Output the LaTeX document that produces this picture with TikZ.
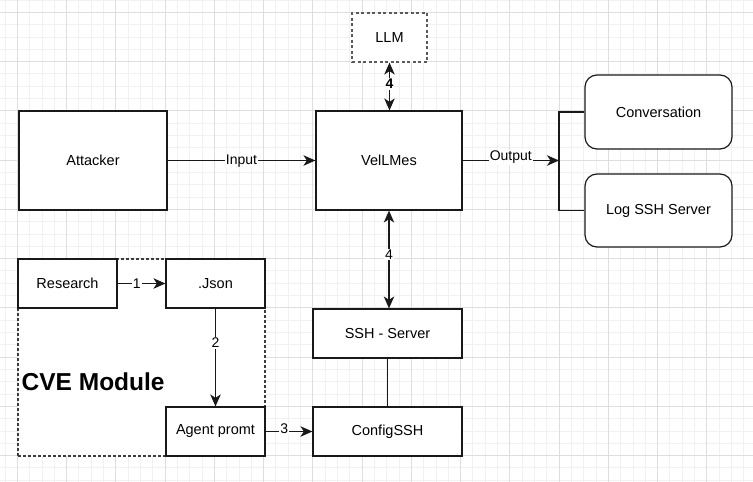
\documentclass[tikz,border=0pt]{standalone}
\usepackage{fontspec}
\setmainfont{Liberation Sans}
\usetikzlibrary{arrows.meta}
\definecolor{gridmajor}{RGB}{222,222,222}
\definecolor{gridminor}{RGB}{241,241,241}
\definecolor{stroke}{RGB}{25,25,25}
\definecolor{dashgray}{RGB}{90,90,90}

\begin{document}
\begin{tikzpicture}[x=1pt, y=-1pt,
    box/.style={draw=stroke, line width=1.2pt, fill=white, inner sep=0pt,
      font=\fontsize{14.5}{17}\selectfont},
    roundbox/.style={box, rounded corners=12pt},
    dashbox/.style={box, draw=dashgray, dash pattern=on 3pt off 2.5pt},
    lbl/.style={fill=white, inner sep=1pt, font=\fontsize{14}{16}\selectfont},
    line/.style={draw=stroke, line width=1.2pt},
    arr/.style={line, -{Stealth[length=12pt, width=10.5pt, inset=3.5pt]}},
    arrboth/.style={line, {Stealth[length=12pt, width=10.5pt, inset=3.5pt]}-{Stealth[length=12pt, width=10.5pt, inset=3.5pt]}}]

  % Canvas and grid
  \useasboundingbox (0,0) rectangle (753,482);
  \fill[white] (0,0) rectangle (753,482);
  \begin{scope}
    \clip (0,0) rectangle (753,482);
    \foreach \i in {-1,...,60}
      \draw[gridminor, line width=0.8pt] ({17.3+12.3125*\i},0) -- ({17.3+12.3125*\i},482);
    \foreach \i in {-1,...,38}
      \draw[gridminor, line width=0.8pt] (0,{12.3+12.3125*\i}) -- (753,{12.3+12.3125*\i});
    \foreach \i in {0,...,15}
      \draw[gridmajor, line width=0.8pt] ({17.3+49.25*\i},0) -- ({17.3+49.25*\i},482);
    \foreach \i in {0,...,9}
      \draw[gridmajor, line width=0.8pt] (0,{12.3+49.25*\i}) -- (753,{12.3+49.25*\i});
  \end{scope}

  % CVE module frame
  \node[box, draw=stroke!85, dash pattern=on 3pt off 2pt, minimum width=247pt, minimum height=197pt] (cve) at (141.5,357.5) {};
  \node[anchor=west, inner sep=0pt, font=\fontsize{24.5}{27}\selectfont\bfseries] (cvetitle) at (21.5,382) {CVE Module};

  % Main blocks
  \node[box, minimum width=148pt, minimum height=99pt] (attacker) at (93,160.5) {Attacker};
  \node[box, minimum width=146pt, minimum height=99pt] (velmes) at (389,160.5) {VelLMes};
  \node[dashbox, minimum width=75pt, minimum height=49pt] (llm) at (389.5,37.5) {LLM};
  \node[roundbox, minimum width=147pt, minimum height=74pt] (conv) at (658.5,112) {Conversation};
  \node[roundbox, minimum width=147pt, minimum height=73pt] (log) at (658.5,210.5) {Log SSH Server};
  \node[box, minimum width=149pt, minimum height=49pt] (ssh) at (387.5,333.5) {SSH - Server};
  \node[box, minimum width=149pt, minimum height=49pt] (config) at (387.5,431.5) {ConfigSSH};

  % CVE blocks
  \node[box, minimum width=99pt, minimum height=49pt] (research) at (67.5,283.5) {Research};
  \node[box, minimum width=99pt, minimum height=49pt] (json) at (215.5,283.5) {.Json};
  \node[box, minimum width=99pt, minimum height=49pt] (agent) at (215.5,431.5) {Agent promt};

  % Output fork
  \coordinate (split) at (559,160.5);
  \draw[line] (conv.west) -- (conv.west -| split) -- (log.west -| split) -- (log.west);

  % Arrows
  \draw[arr] (attacker) -- node[lbl, yshift=-0.5pt]{Input} (velmes);
  \draw[arr] (velmes.east) -- node[lbl, yshift=3pt]{Output} (split);
  \draw[arrboth] (llm.south) -- node[lbl, pos=0.45, font=\fontsize{14}{16}\selectfont\bfseries]{4} (llm.south |- velmes.north);
  \draw[arrboth] (velmes.south) -- node[lbl, pos=0.45]{4} (velmes.south |- ssh.north);
  \draw[line] (ssh) -- (config);
  \draw[arr] (research) -- node[lbl, pos=0.4]{1} (json);
  \draw[arr] (json) -- node[lbl, pos=0.35]{2} (agent);
  \draw[arr] (agent) -- node[lbl, pos=0.4, yshift=3pt]{3} (config);
\end{tikzpicture}
\end{document}
